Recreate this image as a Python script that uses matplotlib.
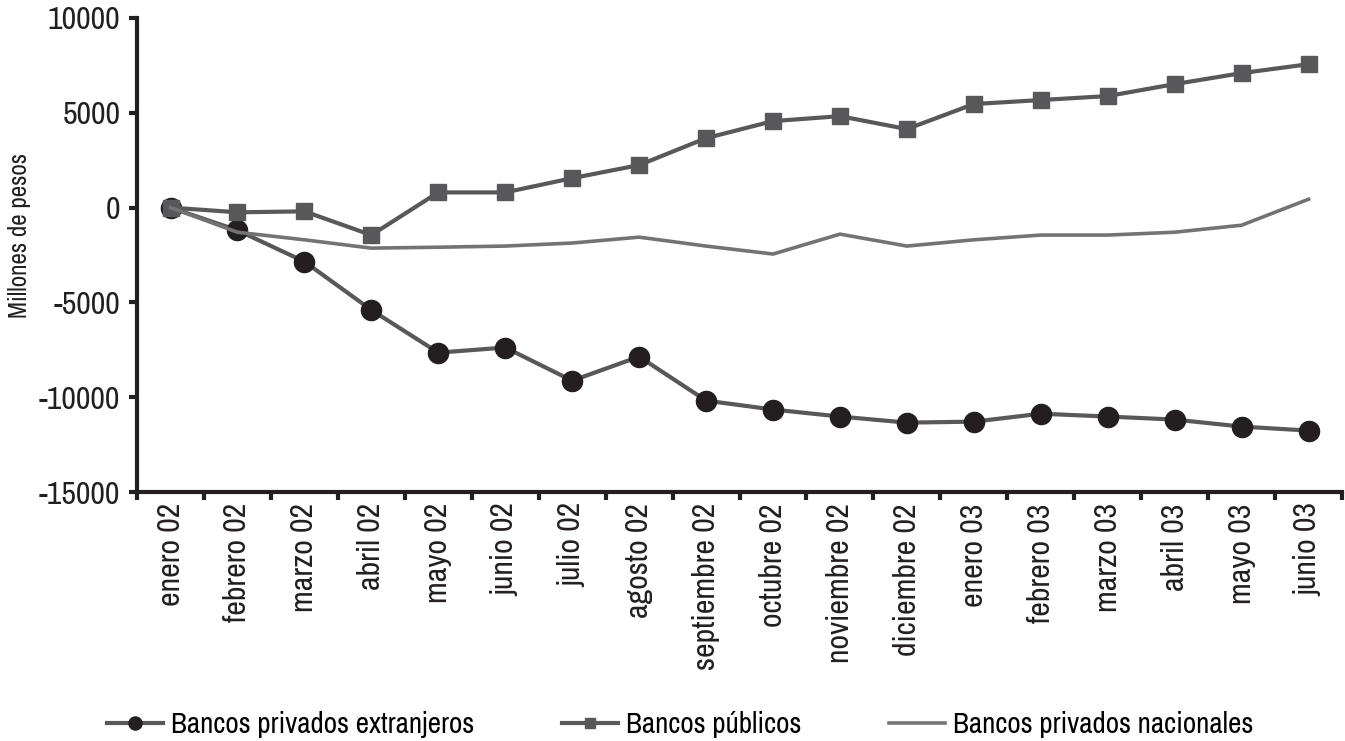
import matplotlib
matplotlib.use("Agg")
import matplotlib.pyplot as plt
from matplotlib import font_manager
import numpy as np

meses = ["enero 02", "febrero 02", "marzo 02", "abril 02", "mayo 02", "junio 02",
         "julio 02", "agosto 02", "septiembre 02", "octubre 02", "noviembre 02",
         "diciembre 02", "enero 03", "febrero 03", "marzo 03", "abril 03",
         "mayo 03", "junio 03"]

extranjeros = [0, -1200, -2850, -5400, -7650, -7380, -9130, -7860, -10180, -10650,
               -11020, -11340, -11290, -10870, -11020, -11180, -11550, -11760]
publicos = [0, -250, -200, -1450, 800, 800, 1550, 2240, 3660, 4560,
            4820, 4140, 5460, 5670, 5880, 6510, 7090, 7560]
nacionales = [0, -1300, -1700, -2140, -2090, -2030, -1870, -1560, -2030, -2450,
              -1400, -2030, -1700, -1450, -1450, -1300, -930, 440]

# buscar una fuente estrecha instalada (el original usa una condensada)
fuentes = font_manager.fontManager.ttflist
estrecha = None
for f in fuentes:
    if 'Narrow' in f.name or 'Condensed' in f.name:
        estrecha = (f.name, 'normal')
        break
if estrecha is None:
    for f in fuentes:
        if f.stretch in ('condensed', 'semi-condensed', 'extra-condensed') or \
                (isinstance(f.stretch, int) and f.stretch < 500):
            estrecha = (f.name, f.stretch)
            break
if estrecha:
    plt.rcParams['font.family'] = [estrecha[0], 'DejaVu Sans']
    plt.rcParams['font.stretch'] = estrecha[1]
    tam = 22
else:
    plt.rcParams['font.family'] = ['DejaVu Sans']
    tam = 16

negro = '#231f20'
gris = '#58585a'
gris_claro = '#737373'

fig = plt.figure(figsize=(13.45, 7.41), dpi=100)
ax = fig.add_axes([0.1019, 0.336, 0.8959, 0.6398])

x = np.arange(len(meses))
ax.plot(x, extranjeros, color=gris, lw=3, marker='o', ms=14.5,
        mfc=negro, mec=negro, label='Bancos privados extranjeros')
ax.plot(x, publicos, color=gris, lw=3, marker='s', ms=11.5,
        mfc=gris, mec=gris, label='Bancos públicos')
ax.plot(x, nacionales, color=gris_claro, lw=2.6, label='Bancos privados nacionales')

ax.set_xlim(-0.5, len(meses) - 0.5)
ax.set_ylim(-15000, 10000)
ax.set_yticks([-15000, -10000, -5000, 0, 5000, 10000])
ax.set_xticks(x)
ax.set_xticklabels(meses, rotation=90, fontsize=tam + 1, color=negro)
ax.set_xticks(np.arange(len(meses) + 1) - 0.5, minor=True)
ax.tick_params(axis='x', which='major', length=0, pad=8)
ax.tick_params(axis='x', which='minor', length=6, width=3, color=negro)
ax.tick_params(axis='y', length=6, width=3, color=negro, labelsize=tam + 1,
               labelcolor=negro, pad=6)
ax.yaxis.set_major_formatter(matplotlib.ticker.FuncFormatter(lambda v, p: "%d" % v))

for lado in ['top', 'right']:
    ax.spines[lado].set_visible(False)
for lado in ['left', 'bottom']:
    ax.spines[lado].set_linewidth(3)
    ax.spines[lado].set_color(negro)

ax.set_ylabel("Millones de pesos", fontsize=tam - 4, color=negro)
ax.yaxis.set_label_coords(-0.088, 0.542)

fig.legend(loc='lower center', bbox_to_anchor=(0.506, -0.032), ncol=3, frameon=False,
           fontsize=tam - 1, handlelength=1.9, handletextpad=0.3, columnspacing=3.0,
           markerscale=0.65)

fig.savefig("out.png", dpi=100)
